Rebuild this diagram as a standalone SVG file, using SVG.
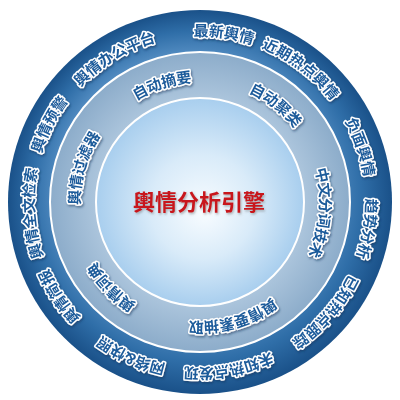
<svg xmlns="http://www.w3.org/2000/svg" width="400" height="400" viewBox="0 0 400 400">
<defs>
<radialGradient id="gOuter" cx="200" cy="202" r="192" fx="175" fy="160" gradientUnits="userSpaceOnUse">
<stop offset="0.72" stop-color="#4f89bf"/>
<stop offset="0.86" stop-color="#2f6ea8"/>
<stop offset="1" stop-color="#1a5189"/>
</radialGradient>
<radialGradient id="gMid" cx="200" cy="202" r="150" gradientUnits="userSpaceOnUse">
<stop offset="0.68" stop-color="#adc6dd"/>
<stop offset="1" stop-color="#8cacca"/>
</radialGradient>
<radialGradient id="gIn" cx="200" cy="202" r="104" fx="205" fy="212" gradientUnits="userSpaceOnUse">
<stop offset="0" stop-color="#f8fcff"/>
<stop offset="0.5" stop-color="#d9ebf9"/>
<stop offset="1" stop-color="#a8ceee"/>
</radialGradient>
<filter id="sh" x="-20%" y="-20%" width="140%" height="140%">
<feDropShadow dx="1" dy="1.5" stdDeviation="1" flood-color="#0b2f55" flood-opacity="0.55"/>
</filter>
<filter id="shT" x="-10%" y="-30%" width="120%" height="160%">
<feDropShadow dx="1" dy="1.5" stdDeviation="1" flood-color="#666" flood-opacity="0.5"/>
</filter>
<path id="pO" d="M200,31 A171,171 0 1 1 200,373 A171,171 0 1 1 200,31 A171,171 0 1 1 200,373 A171,171 0 1 1 200,31"/>
<path id="pI" d="M200,77 A125,125 0 1 1 200,327 A125,125 0 1 1 200,77 A125,125 0 1 1 200,327 A125,125 0 1 1 200,77"/>
</defs>
<style>
.lbl{font-family:"Noto Sans CJK SC","Noto Sans CJK TC",sans-serif;font-weight:bold;font-size:15px;fill:#1f5c9b;stroke:#ffffff;stroke-width:3px;paint-order:stroke;stroke-linejoin:round;letter-spacing:0.3px;filter:url(#sh)}
.title{font-family:"Noto Sans CJK SC","Noto Sans CJK TC",sans-serif;font-weight:bold;font-size:22px;fill:#c8161d;filter:url(#shT)}
</style>
<rect width="400" height="400" fill="#ffffff"/>
<g id="rings">
<circle cx="200" cy="202" r="192" fill="url(#gOuter)"/>
<circle cx="200" cy="202" r="150" fill="url(#gMid)" stroke="#ffffff" stroke-width="2"/>
<circle cx="200" cy="202" r="104" fill="url(#gIn)" stroke="#ffffff" stroke-width="2"/>
</g>
<g id="center"><text class="title" x="199" y="210" text-anchor="middle">輿情分析引擎</text></g>
<g id="inner">
<g id="i1"><text class="lbl" text-anchor="middle" dy="0.35em"><textPath href="#pI" startOffset="1531">自动摘要</textPath></text></g>
<g id="i2"><text class="lbl" text-anchor="middle" dy="0.35em"><textPath href="#pI" startOffset="868">自动聚类</textPath></text></g>
<g id="i3"><text class="lbl" text-anchor="middle" dy="0.35em"><textPath href="#pI" startOffset="992.7">中文分词技术</textPath></text></g>
<g id="i4"><text class="lbl" text-anchor="middle" dy="0.35em"><textPath href="#pI" startOffset="1143.2">輿情要素抽取</textPath></text></g>
<g id="i5"><text class="lbl" text-anchor="middle" dy="0.35em"><textPath href="#pI" startOffset="1278.5">輿情词典</textPath></text></g>
<g id="i6"><text class="lbl" text-anchor="middle" dy="0.35em"><textPath href="#pI" startOffset="1409.4">輿情过滤器</textPath></text></g>
</g>
<g id="outer">
<g id="o1"><text class="lbl" text-anchor="middle" dy="0.35em"><textPath href="#pO" startOffset="1098.3">最新輿情</textPath></text></g>
<g id="o2"><text class="lbl" text-anchor="middle" dy="0.35em"><textPath href="#pO" startOffset="1184.8">近期热点輿情</textPath></text></g>
<g id="o3"><text class="lbl" text-anchor="middle" dy="0.35em"><textPath href="#pO" startOffset="1286.3">负面輿情</textPath></text></g>
<g id="o4"><text class="lbl" text-anchor="middle" dy="0.35em"><textPath href="#pO" startOffset="1369.9">趋势分析</textPath></text></g>
<g id="o5"><text class="lbl" text-anchor="middle" dy="0.35em"><textPath href="#pO" startOffset="1465.4">已知热点跟踪</textPath></text></g>
<g id="o6"><text class="lbl" text-anchor="middle" dy="0.35em"><textPath href="#pO" startOffset="1581.8">未知热点发现</textPath></text></g>
<g id="o7"><text class="lbl" text-anchor="middle" dy="0.35em"><textPath href="#pO" startOffset="1683.2">网络&amp;快照</textPath></text></g>
<g id="o8"><text class="lbl" text-anchor="middle" dy="0.35em"><textPath href="#pO" startOffset="1778.7">輿情简报</textPath></text></g>
<g id="o9"><text class="lbl" text-anchor="middle" dy="0.35em"><textPath href="#pO" startOffset="1868.3">輿情全文检索</textPath></text></g>
<g id="o10"><text class="lbl" text-anchor="middle" dy="0.35em"><textPath href="#pO" startOffset="1960.8">輿情预警</textPath></text></g>
<g id="o11"><text class="lbl" text-anchor="middle" dy="0.35em"><textPath href="#pO" startOffset="2056.3">輿情办公平台</textPath></text></g>
</g>
</svg>
